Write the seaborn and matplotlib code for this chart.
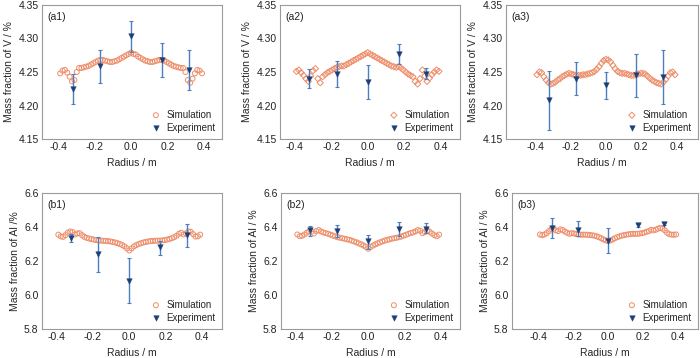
import numpy as np
import pandas as pd
import seaborn as sns
import matplotlib.pyplot as plt

# simulation radius grid (m)
radius_sim = [-0.390, -0.377, -0.364, -0.351, -0.338, -0.325, -0.312, -0.299, -0.286, -0.273,
              -0.260, -0.247, -0.234, -0.221, -0.208, -0.195, -0.182, -0.169, -0.156, -0.143,
              -0.130, -0.117, -0.104, -0.091, -0.078, -0.065, -0.052, -0.039, -0.026, -0.013,
              0.000,
              0.013, 0.026, 0.039, 0.052, 0.065, 0.078, 0.091, 0.104, 0.117, 0.130,
              0.143, 0.156, 0.169, 0.182, 0.195, 0.208, 0.221, 0.234, 0.247, 0.260,
              0.273, 0.286, 0.299, 0.312, 0.325, 0.338, 0.351, 0.364, 0.377, 0.390]

radius_exp = [-0.32, -0.17, 0.0, 0.17, 0.32]

# V mass fraction, simulation
sim_a1 = [4.248, 4.252, 4.253, 4.249, 4.243, 4.236, 4.238, 4.250, 4.256, 4.256,
          4.257, 4.258, 4.259, 4.261, 4.263, 4.265, 4.267, 4.268, 4.268, 4.267,
          4.266, 4.265, 4.265, 4.266, 4.267, 4.269, 4.271, 4.273, 4.275, 4.277,
          4.279,
          4.277, 4.276, 4.273, 4.271, 4.269, 4.267, 4.266, 4.265, 4.265, 4.266,
          4.267, 4.268, 4.268, 4.267, 4.265, 4.263, 4.261, 4.259, 4.258, 4.257,
          4.256, 4.256, 4.250, 4.238, 4.234, 4.240, 4.248, 4.253, 4.252, 4.248]
sim_a2 = [4.251, 4.253, 4.249, 4.245, 4.240, 4.236, 4.244, 4.252, 4.255, 4.240,
          4.234, 4.243, 4.246, 4.249, 4.251, 4.253, 4.255, 4.257, 4.258, 4.259,
          4.259, 4.261, 4.263, 4.265, 4.267, 4.269, 4.271, 4.273, 4.275, 4.277,
          4.279,
          4.277, 4.275, 4.273, 4.271, 4.269, 4.267, 4.265, 4.263, 4.261, 4.259,
          4.258, 4.257, 4.258, 4.256, 4.253, 4.250, 4.247, 4.245, 4.243, 4.236,
          4.232, 4.240, 4.253, 4.244, 4.236, 4.241, 4.246, 4.250, 4.253, 4.251]
sim_a3 = [4.246, 4.250, 4.249, 4.243, 4.238, 4.234, 4.232, 4.233, 4.235, 4.238,
          4.240, 4.243, 4.245, 4.247, 4.248, 4.247, 4.246, 4.245, 4.245, 4.245,
          4.246, 4.246, 4.247, 4.248, 4.249, 4.251, 4.254, 4.258, 4.263, 4.267,
          4.269,
          4.268, 4.265, 4.260, 4.255, 4.251, 4.249, 4.248, 4.248, 4.247, 4.246,
          4.245, 4.245, 4.246, 4.247, 4.248, 4.248, 4.247, 4.244, 4.241, 4.238,
          4.236, 4.234, 4.233, 4.232, 4.235, 4.239, 4.244, 4.249, 4.250, 4.246]

# Al mass fraction, simulation
sim_b1 = [6.355, 6.345, 6.342, 6.352, 6.366, 6.374, 6.370, 6.356, 6.362, 6.364,
          6.352, 6.342, 6.336, 6.332, 6.329, 6.326, 6.323, 6.321, 6.320, 6.319,
          6.318, 6.317, 6.315, 6.312, 6.309, 6.305, 6.300, 6.294, 6.286, 6.274,
          6.262,
          6.274, 6.286, 6.294, 6.300, 6.305, 6.309, 6.312, 6.315, 6.317, 6.318,
          6.319, 6.320, 6.320, 6.321, 6.323, 6.326, 6.330, 6.334, 6.340, 6.348,
          6.360, 6.366, 6.356, 6.362, 6.374, 6.372, 6.358, 6.344, 6.345, 6.355]
sim_b2 = [6.356, 6.346, 6.348, 6.356, 6.366, 6.374, 6.372, 6.362, 6.376, 6.382,
          6.374, 6.368, 6.364, 6.360, 6.355, 6.350, 6.345, 6.340, 6.337, 6.334,
          6.331, 6.328, 6.324, 6.320, 6.315, 6.310, 6.304, 6.298, 6.291, 6.283,
          6.272,
          6.283, 6.291, 6.298, 6.304, 6.310, 6.315, 6.320, 6.324, 6.328, 6.331,
          6.334, 6.337, 6.340, 6.344, 6.349, 6.354, 6.360, 6.365, 6.368, 6.374,
          6.382, 6.378, 6.364, 6.370, 6.378, 6.372, 6.362, 6.352, 6.346, 6.355]
sim_b3 = [6.356, 6.352, 6.356, 6.364, 6.376, 6.388, 6.390, 6.380, 6.376, 6.386,
          6.382, 6.373, 6.366, 6.360, 6.364, 6.362, 6.358, 6.356, 6.355, 6.355,
          6.355, 6.354, 6.353, 6.351, 6.349, 6.345, 6.340, 6.334, 6.327, 6.321,
          6.318,
          6.321, 6.327, 6.334, 6.340, 6.345, 6.349, 6.352, 6.355, 6.357, 6.359,
          6.360, 6.360, 6.360, 6.362, 6.364, 6.367, 6.372, 6.376, 6.384, 6.380,
          6.384, 6.390, 6.395, 6.390, 6.380, 6.366, 6.358, 6.355, 6.355, 6.356]

# experiment: value, lower end, upper end of error bar
exp_a1 = [4.2245, 4.259, 4.3035, 4.268, 4.2525]
lo_a1 = [4.2015, 4.2335, 4.2800, 4.2430, 4.2225]
hi_a1 = [4.2465, 4.2830, 4.3260, 4.2930, 4.2830]
exp_a2 = [4.240, 4.247, 4.235, 4.277, 4.247]
lo_a2 = [4.226, 4.228, 4.210, 4.262, 4.239]
hi_a2 = [4.255, 4.267, 4.260, 4.292, 4.256]
exp_a3 = [4.208, 4.240, 4.230, 4.245, 4.242]
lo_a3 = [4.163, 4.215, 4.210, 4.213, 4.202]
hi_a3 = [4.252, 4.265, 4.250, 4.277, 4.283]
exp_b1 = [6.335, 6.240, 6.085, 6.280, 6.350]
lo_b1 = [6.310, 6.138, 5.952, 6.237, 6.280]
hi_b1 = [6.360, 6.339, 6.217, 6.320, 6.420]
exp_b2 = [6.380, 6.377, 6.316, 6.387, 6.391]
lo_b2 = [6.347, 6.341, 6.272, 6.347, 6.367]
hi_b2 = [6.406, 6.414, 6.351, 6.430, 6.426]
exp_b3 = [6.395, 6.385, 6.318, 6.410, 6.420]
lo_b3 = [6.335, 6.345, 6.245, 6.400, 6.410]
hi_b3 = [6.455, 6.437, 6.395, 6.420, 6.430]

tags = ["(a1)", "(a2)", "(a3)", "(b1)", "(b2)", "(b3)"]
ylabels = ["Mass fraction of V / %", "Mass fraction of V / %", "Mass fraction of V / %",
           "Mass fraction of Al /%", "Mass fraction of Al / %", "Mass fraction of Al / %"]
sim_markers = ["o", "D", "D", "o", "o", "o"]

sns.set_theme(style="white")
plt.rcParams["font.family"] = ["Liberation Sans", "DejaVu Sans"]

W, H = 700, 358
fig = plt.figure(figsize=(7, 3.58), dpi=100)

# axes boxes in pixels: left, right, top, bottom
boxes = [(42, 222, 5, 139), (280, 460, 5, 139), (506, 698, 5, 139),
         (42, 222, 193, 329), (281, 460, 193, 329), (512, 698, 193, 329)]
xlims = [(-0.49, 0.5), (-0.48, 0.505), (-0.565, 0.52),
         (-0.48, 0.51), (-0.48, 0.505), (-0.55, 0.515)]

sims = [sim_a1, sim_a2, sim_a3, sim_b1, sim_b2, sim_b3]
exps = [exp_a1, exp_a2, exp_a3, exp_b1, exp_b2, exp_b3]
los = [lo_a1, lo_a2, lo_a3, lo_b1, lo_b2, lo_b3]
his = [hi_a1, hi_a2, hi_a3, hi_b1, hi_b2, hi_b3]

sim_color = "#ee8e6a"
exp_color = "#1d3f78"
bar_color = "#4c7fbf"

for i in range(6):
    l, r, t, b = boxes[i]
    ax = fig.add_axes([l / W, 1 - b / H, (r - l) / W, (b - t) / H])

    sim_df = pd.DataFrame({"radius": radius_sim, "value": sims[i]})
    exp_df = pd.DataFrame({"radius": radius_exp, "value": exps[i]})

    size = 10 if sim_markers[i] == "D" else 13
    sns.scatterplot(data=sim_df, x="radius", y="value", ax=ax, marker=sim_markers[i],
                    s=size, facecolor="none", edgecolor=sim_color, linewidth=0.7,
                    label="Simulation", zorder=2)
    yerr = [np.array(exps[i]) - np.array(los[i]), np.array(his[i]) - np.array(exps[i])]
    ax.errorbar(radius_exp, exps[i], yerr=yerr, fmt="none", ecolor=bar_color,
                elinewidth=1.0, capsize=1.6, capthick=0.8, zorder=3)
    sns.scatterplot(data=exp_df, x="radius", y="value", ax=ax, marker="v",
                    s=16, color=exp_color, edgecolor=exp_color, linewidth=0.3,
                    label="Experiment", zorder=4)

    ax.set_xlim(*xlims[i])
    if i < 3:
        ax.set_ylim(4.15, 4.35)
        ax.set_yticks([4.15, 4.20, 4.25, 4.30, 4.35])
    else:
        ax.set_ylim(5.8, 6.6)
        ax.set_yticks([5.8, 6.0, 6.2, 6.4, 6.6])
    ax.set_xticks([-0.4, -0.2, 0.0, 0.2, 0.4])
    ax.set_xticklabels(["-0.4", "-0.2", "0.0", "0.2", "0.4"])

    ax.set_xlabel("Radius / m", fontsize=7.5, labelpad=4)
    ax.set_ylabel(ylabels[i], fontsize=7.5, labelpad=3)
    ax.tick_params(labelsize=7.5, direction="in", length=0, pad=2.5, colors="#222222")
    for sp in ax.spines.values():
        sp.set_color("#9a9a9a")
        sp.set_linewidth(0.8)

    ax.text(0.03, 0.95, tags[i], transform=ax.transAxes, fontsize=7.5,
            ha="left", va="top", color="#222222")
    ax.legend(loc="lower right", frameon=False, fontsize=7, handletextpad=0.5,
              borderaxespad=0.25, labelspacing=0.3, handlelength=1.2)

fig.savefig("out.png", dpi=100)
